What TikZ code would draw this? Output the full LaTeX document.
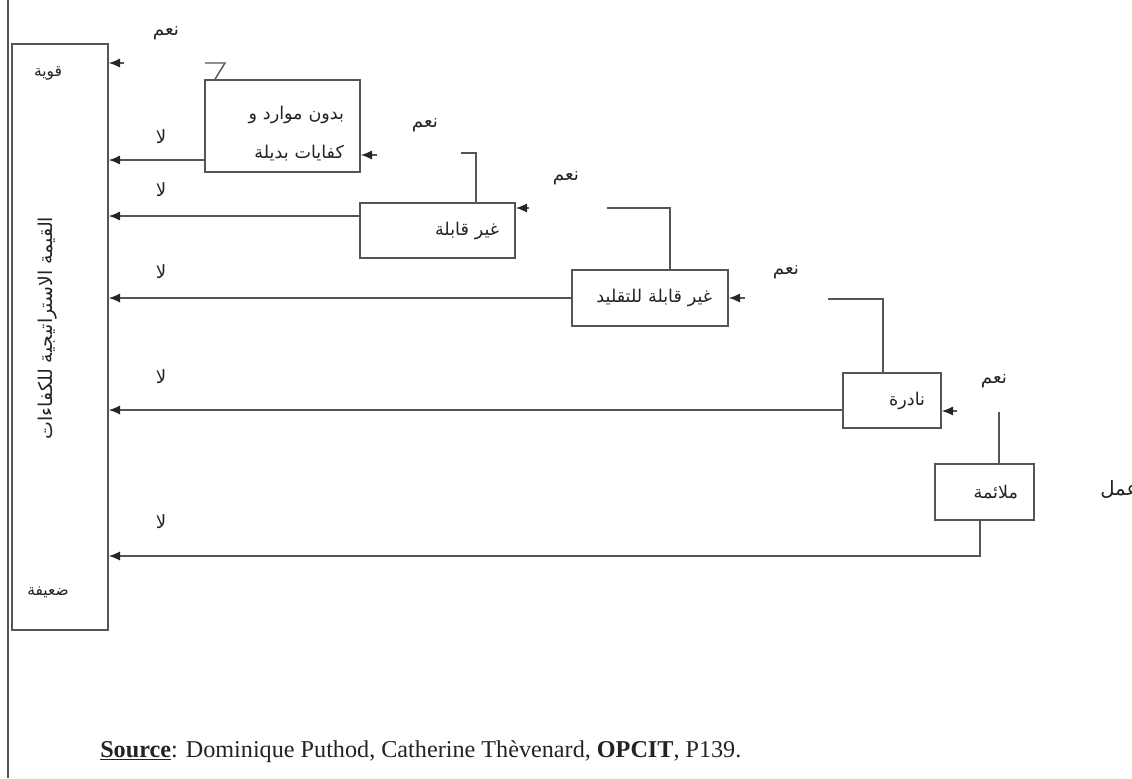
\documentclass[tikz,border=0pt]{standalone}
\usepackage{fontspec}
\setmainfont{Liberation Serif}
\newfontfamily\arabicfont[Script=Arabic]{DejaVu Sans}
\TeXXeTstate=1
\usetikzlibrary{arrows.meta}
\definecolor{LineGrey}{RGB}{85,85,85}
\definecolor{TextDark}{RGB}{35,35,35}

\begin{document}
\begin{tikzpicture}[x=0.025cm,y=-0.025cm,
    critbox/.style={draw=LineGrey,line width=1.1pt,fill=white,align=right,
                    inner xsep=0.4cm,inner ysep=0pt,text=TextDark,
                    font=\arabicfont\fontsize{12.5}{28}\selectfont},
    lbl/.style={font=\arabicfont\fontsize{13}{15}\selectfont,text=TextDark,inner sep=0pt},
    arr/.style={-{Latex[length=8pt,width=6.5pt,color=black!85]},LineGrey,line width=1pt},
    link/.style={LineGrey,line width=1pt}
  ]
  \useasboundingbox (0,0) rectangle (1132,778);
  \clip (0,0) rectangle (1132,778);
  \draw[link,line width=1.3pt] (8,0) -- (8,778);

  \node[critbox,minimum width=2.4cm,minimum height=14.65cm] (valeur) at (60,337) {};
  \node[lbl,font=\arabicfont\fontsize{11}{13}\selectfont] (forte) at (48,73) {\beginR قوية\endR};
  \node[lbl,font=\arabicfont\fontsize{11}{13}\selectfont] (faible) at (48,592) {\beginR ضعيفة\endR};
  \node[lbl,rotate=90,font=\arabicfont\fontsize{13.5}{15}\selectfont] (titre) at (48,328)
    {\beginR القيمة الاستراتيجية للكفاءات\endR};

  \node[critbox,text width=3.075cm,minimum height=2.3cm] (ressources) at (282.5,126)
    {\rule{0pt}{20pt}\beginR بدون موارد و\endR\\\beginR كفايات بديلة\endR};
  \node[critbox,text width=3.075cm,minimum height=1.375cm] (insub) at (437.5,230.5)
    {\beginR غير قابلة\endR};
  \node[critbox,text width=3.1cm,minimum height=1.4cm] (inimit) at (650,298)
    {\beginR غير قابلة للتقليد\endR};
  \node[critbox,text width=1.65cm,minimum height=1.375cm] (rare) at (892,400.5)
    {\beginR نادرة\endR};
  \node[critbox,text width=1.675cm,minimum height=1.4cm] (pertinente) at (984.5,492)
    {\beginR ملائمة\endR};

  \draw[arr] (ressources.west |- 0,160) -- (valeur.east |- 0,160);
  \draw[arr] (insub.west |- 0,216) -- (valeur.east |- 0,216);
  \draw[arr] (inimit.west) -- (valeur.east |- inimit.west);
  \draw[arr] (rare.west |- 0,410) -- (valeur.east |- 0,410);
  \draw[arr] (pertinente.south -| 980,0) -- (980,556) -- (valeur.east |- 0,556);

  \draw[link] (ressources.north -| 215,0) -- (225,63) -- (205,63);
  \draw[arr] (124,63) -- (valeur.east |- 0,63);
  \draw[link] (insub.north -| 476,0) -- (476,153) -- (461,153);
  \draw[arr] (377,155) -- (ressources.east |- 0,155);
  \draw[link] (inimit.north -| 670,0) -- (670,208) -- (607,208);
  \draw[arr] (529,208) -- (insub.east |- 0,208);
  \draw[link] (rare.north -| 883,0) -- (883,299) -- (828,299);
  \draw[arr] (745,298) -- (inimit.east);
  \draw[link] (pertinente.north -| 999,0) -- (999,412);
  \draw[arr] (957,411) -- (rare.east |- 0,411);

  \node[lbl] (non1) at (161,137) {\beginR لا\endR};
  \node[lbl] (non2) at (161,190) {\beginR لا\endR};
  \node[lbl] (non3) at (161,272) {\beginR لا\endR};
  \node[lbl] (non4) at (161,377) {\beginR لا\endR};
  \node[lbl] (non5) at (161,522) {\beginR لا\endR};

  \node[lbl] (oui1) at (166,33) {\beginR نعم\endR};
  \node[lbl] (oui2) at (425,125) {\beginR نعم\endR};
  \node[lbl] (oui3) at (566,178) {\beginR نعم\endR};
  \node[lbl] (oui4) at (786,272) {\beginR نعم\endR};
  \node[lbl] (oui5) at (994,381) {\beginR نعم\endR};

  \node[lbl,anchor=west,font=\arabicfont\fontsize{14}{16}\selectfont] (coupe) at (1100,490) {\beginR عمل\endR};

  \node[anchor=base west,inner sep=0pt,font=\fontsize{17.2}{20}\selectfont,text=TextDark] (source) at (100,757)
    {\underline{\textbf{Source}}: Dominique Puthod, Catherine Thèvenard, \textbf{OPCIT}, P139.};
\end{tikzpicture}
\end{document}
